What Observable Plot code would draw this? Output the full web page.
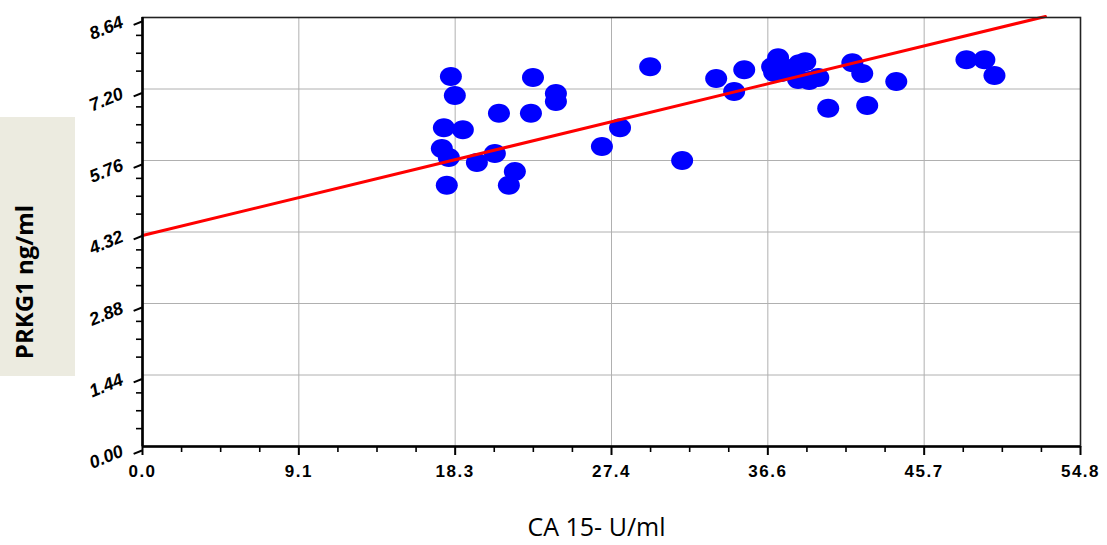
<!DOCTYPE html>
<html>
<head>
<meta charset="utf-8">
<script src="https://cdn.jsdelivr.net/npm/d3@7"></script>
<script src="https://cdn.jsdelivr.net/npm/@observablehq/plot@0.6"></script>
<style>
  html, body { margin: 0; padding: 0; background: #fff; }
  #wrap { position: relative; width: 1107px; height: 545px; }
  #ybox { position: absolute; left: 0; top: 117px; width: 75px; height: 259px; background: #ECEBE0; z-index: 0; }
  #ytitle { position: absolute; left: 24px; top: 165px; transform: translate(-50%, -50%) rotate(-90deg);
    white-space: nowrap; font-family: 'Open Sans', sans-serif; font-weight: bold; font-size: 24px; line-height: 1; color: #000; }
  #chart { position: absolute; left: 0; top: 0; z-index: 1; }
</style>
</head>
<body>
<div id="wrap"><div id="ybox"><div id="ytitle"></div></div><div id="chart"></div></div>
<script>
// ---- data ----
const caValues = [18.03, 18.26, 17.62, 18.73, 17.50, 17.91, 17.79, 19.55, 20.60, 20.84,
  21.42, 21.77, 22.71, 22.83, 24.17, 24.17, 26.86, 27.92, 29.68, 31.55,
  33.54, 34.59, 35.18, 37.16, 36.81, 37.34, 36.93, 37.81, 38.39, 38.75,
  38.33, 38.98, 39.51, 40.09, 41.50, 42.08, 42.37, 44.07, 48.17, 49.22, 49.81];
const prkgValues = [7.45, 7.07, 6.42, 6.38, 6.00, 5.82, 5.26, 5.72, 5.90, 6.71,
  5.26, 5.54, 6.71, 7.43, 7.11, 6.95, 6.04, 6.42, 7.65, 5.76,
  7.41, 7.15, 7.59, 7.83, 7.65, 7.53, 7.53, 7.61, 7.71, 7.75,
  7.39, 7.37, 7.43, 6.81, 7.73, 7.51, 6.87, 7.35, 7.79, 7.79, 7.47];
const fitX = [0, 52.79];
const fitY = [4.25, 8.66];
const xTickLabels = ["0.0", "9.1", "18.3", "27.4", "36.6", "45.7", "54.8"];
const yTickLabels = ["0.00", "1.44", "2.88", "4.32", "5.76", "7.20", "8.64"];
const xMax = 54.84;
const yMax = 8.64;
const xTitle = "CA 15- U/ml";
const yTitle = "PRKG1 ng/ml";

// ---- derived tables ----
const points = caValues.map((x, i) => ({x, y: prkgValues[i]}));
const fit = fitX.map((x, i) => ({x, y: fitY[i]}));
const xStep = xMax / 6, yStep = yMax / 6;
const xMajor = xTickLabels.map((_, i) => i * xStep);
const yMajor = yTickLabels.map((_, i) => i * yStep);
const xMinor = d3.range(25).map(i => i * xStep / 4).filter((_, i) => i % 4 !== 0);
const yMinor = d3.range(25).map(i => i * yStep / 4).filter((_, i) => i % 4 !== 0);
const xLab = new Map(xMajor.map((v, i) => [v, xTickLabels[i]]));
const yLab = new Map(yMajor.map((v, i) => [v, yTickLabels[i]]));

const ellipse = {
  draw(ctx) {
    const rx = 11, ry = 9.5, k = 0.5523;
    ctx.moveTo(rx, 0);
    ctx.bezierCurveTo(rx, k * ry, k * rx, ry, 0, ry);
    ctx.bezierCurveTo(-k * rx, ry, -rx, k * ry, -rx, 0);
    ctx.bezierCurveTo(-rx, -k * ry, -k * rx, -ry, 0, -ry);
    ctx.bezierCurveTo(k * rx, -ry, rx, -k * ry, rx, 0);
    ctx.closePath();
  }
};

document.getElementById("ytitle").textContent = yTitle;

const chart = Plot.plot({
  width: 1107,
  height: 545,
  marginLeft: 142,
  marginRight: 27,
  marginTop: 17,
  marginBottom: 99,
  style: {fontFamily: "'Liberation Sans', Arial, sans-serif", background: "transparent", overflow: "visible"},
  x: {domain: [0, xMax]},
  y: {domain: [0, yMax]},
  marks: [
    Plot.gridX(xMajor, {stroke: "#b0b0b0", strokeOpacity: 1, strokeWidth: 1}),
    Plot.gridY(yMajor, {stroke: "#b0b0b0", strokeOpacity: 1, strokeWidth: 1}),
    Plot.dot(points, {x: "x", y: "y", symbol: ellipse, fill: "#0000ff", stroke: "none", r: 10}),
    Plot.line(fit, {x: "x", y: "y", stroke: "#ff0000", strokeWidth: 3}),
    Plot.frame({stroke: "#222", strokeWidth: 1.6}),
    Plot.ruleX([0], {stroke: "#000", strokeWidth: 2.6}),
    Plot.ruleY([0], {stroke: "#000", strokeWidth: 2.6}),
    Plot.axisX(xMinor, {tickSize: 6, tickFormat: () => "", stroke: "#000", strokeWidth: 1.6, label: null}),
    Plot.axisX(xMajor, {tickSize: 9, tickPadding: 9, tickFormat: d => xLab.get(d), stroke: "#000", strokeWidth: 2,
      fontSize: 17, fontWeight: "bold", fill: "#000", label: null}),
    Plot.axisY(yMinor, {tickSize: 6, tickFormat: () => "", stroke: "#000", strokeWidth: 1.6, label: null}),
    Plot.axisY(yMajor, {tickSize: 9, tickPadding: 11, tickFormat: d => yLab.get(d), stroke: "#000", strokeWidth: 2,
      fontSize: 18, fontWeight: "bold", fontStyle: "italic", rotate: -22, dy: 4, fill: "#000", label: null}),
    Plot.text([xTitle], {frameAnchor: "bottom", dx: -15, dy: 81, lineAnchor: "middle", fontSize: 25,
      fontFamily: "'Open Sans', sans-serif", fill: "#000"})
  ]
});
document.getElementById("chart").appendChild(chart);
// wider spacing for the x tick labels, as in the reference
d3.select(chart).selectAll("text").each(function() {
  if (xTickLabels.includes(this.textContent)) this.setAttribute("letter-spacing", "1.5px");
});
</script>
</body>
</html>
